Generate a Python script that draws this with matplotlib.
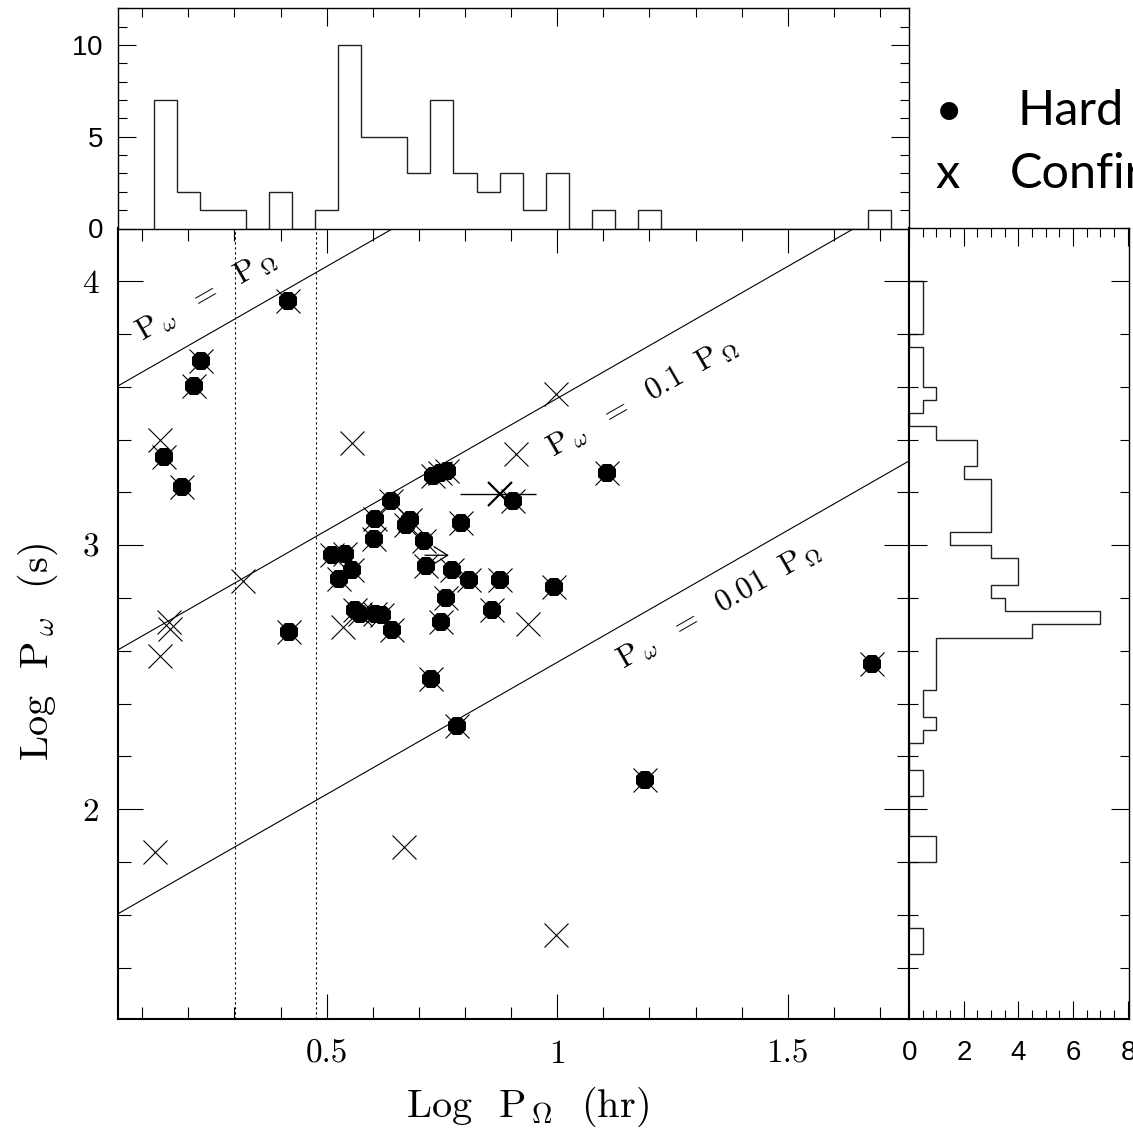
import numpy as np
import matplotlib.pyplot as plt
from matplotlib.ticker import FixedLocator, MultipleLocator, NullFormatter, FixedFormatter

plt.rcParams['mathtext.fontset'] = 'cm'
plt.rcParams['axes.formatter.use_mathtext'] = True

# log P_orb (hr) and log P_spin (s) of the hard X-ray sources
hard_porb = [0.416, 0.227, 0.213, 0.148, 0.186, 0.418, 0.727, 0.783, 1.191, 1.682,
             1.108, 0.994, 0.904, 0.792, 0.809, 0.875, 0.858, 0.758, 0.749, 0.771,
             0.716, 0.711, 0.680, 0.673, 0.639, 0.604, 0.603, 0.730, 0.745, 0.760,
             0.511, 0.540, 0.554, 0.527, 0.561, 0.572, 0.604, 0.619, 0.641]
hard_pspin = [3.926, 3.697, 3.605, 3.333, 3.219, 2.670, 2.493, 2.316, 2.112, 2.551,
              3.274, 2.840, 3.168, 3.085, 2.870, 2.870, 2.755, 2.800, 2.708, 2.908,
              2.921, 3.015, 3.095, 3.076, 3.167, 3.101, 3.025, 3.262, 3.275, 3.280,
              2.962, 2.968, 2.908, 2.873, 2.753, 2.740, 2.740, 2.734, 2.679]

# other confirmed systems
conf_porb = [0.139, 0.554, 0.318, 0.157, 0.161, 0.139, 0.536, 0.911, 0.998, 0.936,
             0.128, 0.668, 0.997]
conf_pspin = [3.399, 3.388, 2.866, 2.708, 2.683, 2.582, 2.692, 3.345, 3.573, 2.700,
              1.839, 1.858, 1.524]

# system with an uncertain orbital period, and one lower limit
unc_porb, unc_pspin = 0.875, 3.194
unc_err_lo, unc_err_hi = 0.086, 0.080
lim_porb, lim_pspin, lim_len = 0.713, 2.962, 0.052

# histogram of log P_orb (bins of 0.05 starting at 0.125)
porb_edges = np.round(0.125 + 0.05 * np.arange(33), 3)
porb_counts = [7, 2, 1, 1, 0, 2, 0, 1, 10, 5, 5, 3, 7, 3, 2, 3, 1, 3, 0, 1, 0, 1,
               0, 0, 0, 0, 0, 0, 0, 0, 0, 1]

# histogram of log P_spin (bins of 0.05 starting at 1.45)
pspin_edges = np.round(1.45 + 0.05 * np.arange(52), 3)
pspin_counts = [0.5, 0.5, 0, 0, 0, 0, 0, 1, 1, 0, 0, 0, 0.5, 0.5, 0, 0, 0.5, 1, 0.5, 0.5,
                1, 1, 1, 1, 4.5, 7, 3.5, 3, 4, 4, 3, 1.5, 3, 3, 3, 3, 2, 2.5, 2.5, 1,
                0, 0.5, 1, 0.5, 0.5, 0.5, 0, 0.5, 0.5, 0.5, 0.5]

ratios = [1, 0.1, 0.01]
ratio_labels = [r'$\mathrm{P}_{\,\omega}\ \ =\ \ \mathrm{P}_{\,\Omega}$',
                r'$\mathrm{P}_{\,\omega}\ \ =\ \ 0.1\ \ \mathrm{P}_{\,\Omega}$',
                r'$\mathrm{P}_{\,\omega}\ \ =\ \ 0.01\ \ \mathrm{P}_{\,\Omega}$']
label_pos = [(0.238, 3.944), (1.185, 3.560), (1.352, 2.772)]

xlim = (0.048, 1.763)
ylim = (1.205, 4.2)

W, H = 1133, 1131
fig = plt.figure(figsize=(W / 100, H / 100), dpi=100)


def rect(l, t, r, b):
    return [l / W, 1 - b / H, (r - l) / W, (b - t) / H]


ax = fig.add_axes(rect(118.3, 228.5, 909, 1019))
axt = fig.add_axes(rect(118.3, 8.3, 909, 228.5))
axr = fig.add_axes(rect(909, 228.5, 1129.3, 1019))

# ---- main panel
ax.set_xlim(xlim)
ax.set_ylim(ylim)
xl = np.array(xlim)
for r in ratios:
    ax.plot(xl, xl + np.log10(3600 * r), color='k', lw=0.8, zorder=1)
for p in [np.log10(2), np.log10(3)]:
    ax.axvline(p, color='k', lw=0.8, ls=(0, (2, 2.5)), zorder=1)

ax.plot(hard_porb, hard_pspin, ls='none', marker='8', ms=13.5, mfc='k', mec='k',
        mew=0, zorder=3)
ax.plot(list(hard_porb) + list(conf_porb), list(hard_pspin) + list(conf_pspin),
        ls='none', marker='x', ms=17.5, mec='k', mew=0.8, zorder=4)
ax.errorbar([unc_porb], [unc_pspin], xerr=[[unc_err_lo], [unc_err_hi]], fmt='x',
            ms=17.5, mec='k', mew=1.6, ecolor='k', elinewidth=1.0, capsize=0, zorder=4)
ax.annotate('', xy=(lim_porb + lim_len, lim_pspin), xytext=(lim_porb, lim_pspin),
            arrowprops=dict(arrowstyle='->,head_length=0.45,head_width=0.28',
                            lw=0.9, color='k', mutation_scale=22,
                            shrinkA=0, shrinkB=0), zorder=5)

# rotate the line labels along the lines in screen space
p0 = ax.transData.transform((0, 0))
p1 = ax.transData.transform((1, 1))
angle = np.degrees(np.arctan2(p1[1] - p0[1], p1[0] - p0[0]))
for txt, (lx, ly) in zip(ratio_labels, label_pos):
    ax.text(lx, ly, txt, rotation=angle, rotation_mode='anchor', ha='center',
            va='center', fontsize=22.5, zorder=2)

ax.xaxis.set_major_locator(FixedLocator([0.5, 1, 1.5]))
ax.xaxis.set_major_formatter(FixedFormatter(['0.5', '1', '1.5']))
ax.xaxis.set_minor_locator(MultipleLocator(0.1))
ax.yaxis.set_major_locator(FixedLocator([2, 3, 4]))
ax.yaxis.set_major_formatter(FixedFormatter(['2', '3', '4']))
ax.yaxis.set_minor_locator(MultipleLocator(0.2))
ax.tick_params(which='both', direction='in', top=True, right=True, width=0.8,
               labelsize=24, labelfontfamily='cmr10')
ax.tick_params(which='major', length=18)
ax.tick_params(which='minor', length=9)
ax.tick_params(axis='x', pad=15)
ax.tick_params(axis='y', pad=14)
for s in ax.spines.values():
    s.set_linewidth(1.5)

fig.text(527 / W, 1 - 1117 / H, r'Log  P$_{\,\Omega}$  (hr)', fontsize=29,
         family='cmr10', ha='center', va='baseline')
fig.text(38 / W, 1 - 652 / H, r'Log  P$_{\,\omega}$  (s)', fontsize=29,
         family='cmr10', ha='center', va='center', rotation=90)

# ---- top histogram
axt.stairs(porb_counts, porb_edges, color='#222222', lw=1.0, baseline=0)
axt.set_xlim(xlim)
axt.set_ylim(0, 12)
axt.xaxis.set_major_locator(FixedLocator([0.5, 1, 1.5]))
axt.xaxis.set_minor_locator(MultipleLocator(0.1))
axt.xaxis.set_major_formatter(NullFormatter())
axt.yaxis.set_major_locator(FixedLocator([0, 5, 10]))
axt.yaxis.set_minor_locator(MultipleLocator(1))
axt.tick_params(which='both', direction='in', top=True, bottom=False, right=True,
                labelbottom=False, width=0.8, labelsize=20,
                labelfontfamily='Liberation Sans')
axt.tick_params(which='major', length=13)
axt.tick_params(which='minor', length=6.5)
axt.tick_params(axis='y', pad=11)
for s in axt.spines.values():
    s.set_linewidth(1.0)

# ---- right histogram
axr.stairs(pspin_counts, pspin_edges, orientation='horizontal', color='#222222',
           lw=1.0, baseline=0)
axr.set_ylim(ylim)
axr.set_xlim(0, 8.06)
axr.xaxis.set_major_locator(FixedLocator([0, 2, 4, 6, 8]))
axr.xaxis.set_minor_locator(MultipleLocator(0.5))
axr.yaxis.set_major_locator(FixedLocator([2, 3, 4]))
axr.yaxis.set_minor_locator(MultipleLocator(0.2))
axr.yaxis.set_major_formatter(NullFormatter())
axr.tick_params(which='both', direction='in', top=True, right=True, left=True,
                labelleft=False, width=0.8, labelsize=20,
                labelfontfamily='Liberation Sans')
axr.tick_params(which='major', length=13)
axr.tick_params(which='minor', length=6.5)
axr.tick_params(axis='x', pad=15)
for s in axr.spines.values():
    s.set_linewidth(1.0)
axr.spines['left'].set_linewidth(1.5)
axr.spines['bottom'].set_linewidth(1.5)

# ---- key
fig.text(949 / W, 1 - 125 / H, '\u2022', fontsize=35, family='Lato', ha='center',
         va='baseline')
fig.text(1017 / W, 1 - 125 / H, 'Hard', fontsize=35, family='Lato', ha='left',
         va='baseline')
fig.text(948 / W, 1 - 188 / H, 'x', fontsize=35, family='Lato', ha='center',
         va='baseline')
fig.text(1010 / W, 1 - 188 / H, 'Confirmed', fontsize=35, family='Lato', ha='left',
         va='baseline')

fig.savefig('out.png', dpi=100)
